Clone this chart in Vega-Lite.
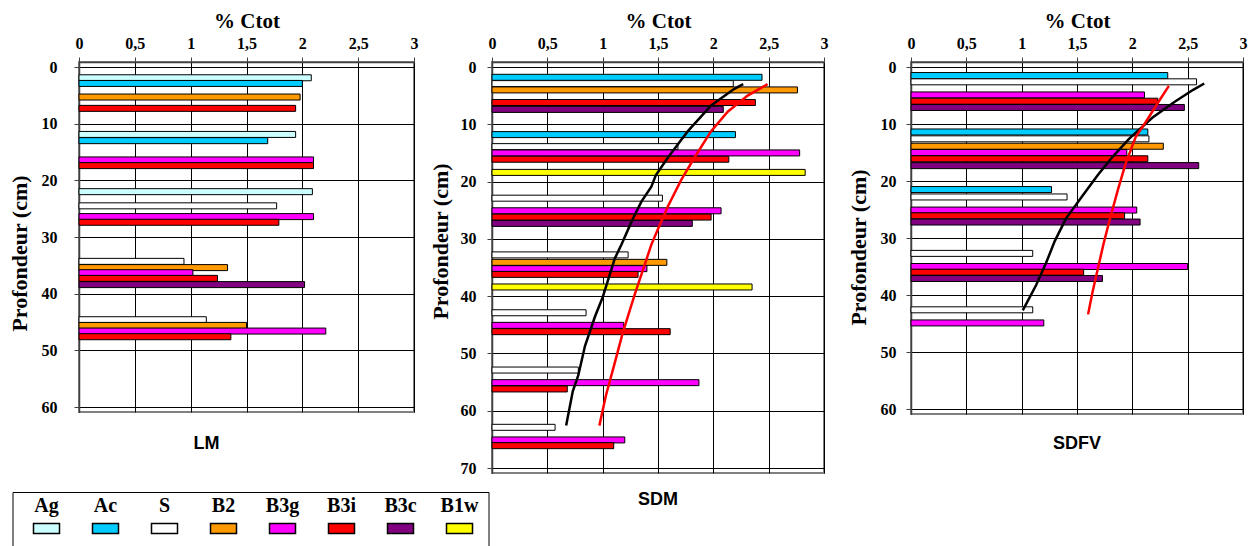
{
  "$schema": "https://vega.github.io/schema/vega-lite/v6.json",
  "background": "white",
  "padding": {"left": 7, "top": 9, "right": 5, "bottom": 0},
  "datasets": {
    "bars": [
      {"profil": "LM", "horizon": "Ag", "prof": 1.9, "ctot": 2.08},
      {"profil": "LM", "horizon": "Ac", "prof": 2.9, "ctot": 2.0},
      {"profil": "LM", "horizon": "B2", "prof": 5.3, "ctot": 1.98},
      {"profil": "LM", "horizon": "B3i", "prof": 7.3, "ctot": 1.94},
      {"profil": "LM", "horizon": "Ag", "prof": 11.9, "ctot": 1.94},
      {"profil": "LM", "horizon": "Ac", "prof": 13.0, "ctot": 1.69},
      {"profil": "LM", "horizon": "B3g", "prof": 16.4, "ctot": 2.1},
      {"profil": "LM", "horizon": "B3i", "prof": 17.4, "ctot": 2.1},
      {"profil": "LM", "horizon": "Ag", "prof": 22.0, "ctot": 2.09},
      {"profil": "LM", "horizon": "S", "prof": 24.5, "ctot": 1.77},
      {"profil": "LM", "horizon": "B3g", "prof": 26.4, "ctot": 2.1},
      {"profil": "LM", "horizon": "B3i", "prof": 27.4, "ctot": 1.79},
      {"profil": "LM", "horizon": "S", "prof": 34.3, "ctot": 0.94},
      {"profil": "LM", "horizon": "B2", "prof": 35.4, "ctot": 1.33},
      {"profil": "LM", "horizon": "B3g", "prof": 36.3, "ctot": 1.02},
      {"profil": "LM", "horizon": "B3i", "prof": 37.3, "ctot": 1.24},
      {"profil": "LM", "horizon": "B3c", "prof": 38.4, "ctot": 2.02},
      {"profil": "LM", "horizon": "S", "prof": 44.6, "ctot": 1.14},
      {"profil": "LM", "horizon": "B2", "prof": 45.6, "ctot": 1.5},
      {"profil": "LM", "horizon": "B3g", "prof": 46.6, "ctot": 2.21},
      {"profil": "LM", "horizon": "B3i", "prof": 47.6, "ctot": 1.36},

      {"profil": "SDM", "horizon": "Ac", "prof": 1.8, "ctot": 2.44},
      {"profil": "SDM", "horizon": "S", "prof": 2.9, "ctot": 2.18},
      {"profil": "SDM", "horizon": "B2", "prof": 4.0, "ctot": 2.76},
      {"profil": "SDM", "horizon": "B3i", "prof": 6.2, "ctot": 2.38},
      {"profil": "SDM", "horizon": "B3c", "prof": 7.4, "ctot": 2.09},
      {"profil": "SDM", "horizon": "Ac", "prof": 11.8, "ctot": 2.2},
      {"profil": "SDM", "horizon": "S", "prof": 13.9, "ctot": 1.68},
      {"profil": "SDM", "horizon": "B3g", "prof": 15.0, "ctot": 2.78},
      {"profil": "SDM", "horizon": "B3i", "prof": 16.1, "ctot": 2.14},
      {"profil": "SDM", "horizon": "B1w", "prof": 18.4, "ctot": 2.83},
      {"profil": "SDM", "horizon": "S", "prof": 22.9, "ctot": 1.54},
      {"profil": "SDM", "horizon": "B3g", "prof": 25.1, "ctot": 2.07},
      {"profil": "SDM", "horizon": "B3i", "prof": 26.2, "ctot": 1.98},
      {"profil": "SDM", "horizon": "B3c", "prof": 27.3, "ctot": 1.81},
      {"profil": "SDM", "horizon": "S", "prof": 32.8, "ctot": 1.23},
      {"profil": "SDM", "horizon": "B2", "prof": 34.1, "ctot": 1.58},
      {"profil": "SDM", "horizon": "B3g", "prof": 35.2, "ctot": 1.4},
      {"profil": "SDM", "horizon": "B3i", "prof": 36.2, "ctot": 1.32},
      {"profil": "SDM", "horizon": "B1w", "prof": 38.4, "ctot": 2.35},
      {"profil": "SDM", "horizon": "S", "prof": 42.9, "ctot": 0.85},
      {"profil": "SDM", "horizon": "B3g", "prof": 45.1, "ctot": 1.19},
      {"profil": "SDM", "horizon": "B3i", "prof": 46.2, "ctot": 1.61},
      {"profil": "SDM", "horizon": "S", "prof": 52.9, "ctot": 0.78},
      {"profil": "SDM", "horizon": "B3g", "prof": 55.1, "ctot": 1.87},
      {"profil": "SDM", "horizon": "B3i", "prof": 56.2, "ctot": 0.68},
      {"profil": "SDM", "horizon": "S", "prof": 62.9, "ctot": 0.57},
      {"profil": "SDM", "horizon": "B3g", "prof": 65.1, "ctot": 1.2},
      {"profil": "SDM", "horizon": "B3i", "prof": 66.1, "ctot": 1.1},

      {"profil": "SDFV", "horizon": "Ac", "prof": 1.5, "ctot": 2.32},
      {"profil": "SDFV", "horizon": "S", "prof": 2.6, "ctot": 2.58},
      {"profil": "SDFV", "horizon": "B3g", "prof": 4.9, "ctot": 2.11},
      {"profil": "SDFV", "horizon": "B3i", "prof": 6.0, "ctot": 2.23},
      {"profil": "SDFV", "horizon": "B3c", "prof": 7.1, "ctot": 2.47},
      {"profil": "SDFV", "horizon": "Ac", "prof": 11.4, "ctot": 2.14},
      {"profil": "SDFV", "horizon": "S", "prof": 12.6, "ctot": 2.15},
      {"profil": "SDFV", "horizon": "B2", "prof": 13.9, "ctot": 2.28},
      {"profil": "SDFV", "horizon": "B3g", "prof": 15.0, "ctot": 1.95},
      {"profil": "SDFV", "horizon": "B3i", "prof": 16.1, "ctot": 2.14},
      {"profil": "SDFV", "horizon": "B3c", "prof": 17.3, "ctot": 2.6},
      {"profil": "SDFV", "horizon": "Ac", "prof": 21.5, "ctot": 1.27},
      {"profil": "SDFV", "horizon": "S", "prof": 22.8, "ctot": 1.41},
      {"profil": "SDFV", "horizon": "B3g", "prof": 25.1, "ctot": 2.04},
      {"profil": "SDFV", "horizon": "B3i", "prof": 26.1, "ctot": 1.93},
      {"profil": "SDFV", "horizon": "B3c", "prof": 27.2, "ctot": 2.07},
      {"profil": "SDFV", "horizon": "S", "prof": 32.7, "ctot": 1.1},
      {"profil": "SDFV", "horizon": "B3g", "prof": 35.0, "ctot": 2.5},
      {"profil": "SDFV", "horizon": "B3i", "prof": 36.0, "ctot": 1.56},
      {"profil": "SDFV", "horizon": "B3c", "prof": 37.1, "ctot": 1.73},
      {"profil": "SDFV", "horizon": "S", "prof": 42.6, "ctot": 1.1},
      {"profil": "SDFV", "horizon": "B3g", "prof": 44.9, "ctot": 1.2}
    ],
    "curves": [
      {"profil": "SDM", "serie": "noir", "prof": 3.0, "ctot": 2.27},
      {"profil": "SDM", "serie": "noir", "prof": 3.8, "ctot": 2.19},
      {"profil": "SDM", "serie": "noir", "prof": 6.7, "ctot": 1.98},
      {"profil": "SDM", "serie": "noir", "prof": 11.2, "ctot": 1.77},
      {"profil": "SDM", "serie": "noir", "prof": 13.5, "ctot": 1.68},
      {"profil": "SDM", "serie": "noir", "prof": 15.8, "ctot": 1.59},
      {"profil": "SDM", "serie": "noir", "prof": 18.9, "ctot": 1.48},
      {"profil": "SDM", "serie": "noir", "prof": 20.9, "ctot": 1.44},
      {"profil": "SDM", "serie": "noir", "prof": 23.5, "ctot": 1.35},
      {"profil": "SDM", "serie": "noir", "prof": 26.6, "ctot": 1.27},
      {"profil": "SDM", "serie": "noir", "prof": 31.0, "ctot": 1.17},
      {"profil": "SDM", "serie": "noir", "prof": 33.4, "ctot": 1.11},
      {"profil": "SDM", "serie": "noir", "prof": 40.2, "ctot": 1.0},
      {"profil": "SDM", "serie": "noir", "prof": 43.6, "ctot": 0.93},
      {"profil": "SDM", "serie": "noir", "prof": 48.7, "ctot": 0.84},
      {"profil": "SDM", "serie": "noir", "prof": 53.8, "ctot": 0.78},
      {"profil": "SDM", "serie": "noir", "prof": 56.6, "ctot": 0.73},
      {"profil": "SDM", "serie": "noir", "prof": 62.6, "ctot": 0.67},
      {"profil": "SDM", "serie": "rouge", "prof": 3.0, "ctot": 2.49},
      {"profil": "SDM", "serie": "rouge", "prof": 5.0, "ctot": 2.31},
      {"profil": "SDM", "serie": "rouge", "prof": 7.8, "ctot": 2.13},
      {"profil": "SDM", "serie": "rouge", "prof": 11.2, "ctot": 1.98},
      {"profil": "SDM", "serie": "rouge", "prof": 15.8, "ctot": 1.83},
      {"profil": "SDM", "serie": "rouge", "prof": 19.7, "ctot": 1.71},
      {"profil": "SDM", "serie": "rouge", "prof": 24.3, "ctot": 1.59},
      {"profil": "SDM", "serie": "rouge", "prof": 28.3, "ctot": 1.5},
      {"profil": "SDM", "serie": "rouge", "prof": 31.0, "ctot": 1.44},
      {"profil": "SDM", "serie": "rouge", "prof": 34.5, "ctot": 1.38},
      {"profil": "SDM", "serie": "rouge", "prof": 39.7, "ctot": 1.29},
      {"profil": "SDM", "serie": "rouge", "prof": 46.5, "ctot": 1.18},
      {"profil": "SDM", "serie": "rouge", "prof": 51.6, "ctot": 1.11},
      {"profil": "SDM", "serie": "rouge", "prof": 57.3, "ctot": 1.03},
      {"profil": "SDM", "serie": "rouge", "prof": 62.6, "ctot": 0.97},
      {"profil": "SDFV", "serie": "noir", "prof": 2.9, "ctot": 2.65},
      {"profil": "SDFV", "serie": "noir", "prof": 4.0, "ctot": 2.55},
      {"profil": "SDFV", "serie": "noir", "prof": 6.0, "ctot": 2.39},
      {"profil": "SDFV", "serie": "noir", "prof": 8.9, "ctot": 2.18},
      {"profil": "SDFV", "serie": "noir", "prof": 12.6, "ctot": 1.97},
      {"profil": "SDFV", "serie": "noir", "prof": 15.8, "ctot": 1.82},
      {"profil": "SDFV", "serie": "noir", "prof": 18.9, "ctot": 1.69},
      {"profil": "SDFV", "serie": "noir", "prof": 22.6, "ctot": 1.55},
      {"profil": "SDFV", "serie": "noir", "prof": 26.6, "ctot": 1.4},
      {"profil": "SDFV", "serie": "noir", "prof": 30.5, "ctot": 1.3},
      {"profil": "SDFV", "serie": "noir", "prof": 34.4, "ctot": 1.22},
      {"profil": "SDFV", "serie": "noir", "prof": 38.3, "ctot": 1.13},
      {"profil": "SDFV", "serie": "noir", "prof": 42.7, "ctot": 1.01},
      {"profil": "SDFV", "serie": "rouge", "prof": 3.3, "ctot": 2.33},
      {"profil": "SDFV", "serie": "rouge", "prof": 6.0, "ctot": 2.24},
      {"profil": "SDFV", "serie": "rouge", "prof": 9.7, "ctot": 2.12},
      {"profil": "SDFV", "serie": "rouge", "prof": 12.3, "ctot": 2.03},
      {"profil": "SDFV", "serie": "rouge", "prof": 16.9, "ctot": 1.94},
      {"profil": "SDFV", "serie": "rouge", "prof": 21.5, "ctot": 1.87},
      {"profil": "SDFV", "serie": "rouge", "prof": 27.2, "ctot": 1.79},
      {"profil": "SDFV", "serie": "rouge", "prof": 31.0, "ctot": 1.74},
      {"profil": "SDFV", "serie": "rouge", "prof": 34.4, "ctot": 1.7},
      {"profil": "SDFV", "serie": "rouge", "prof": 39.5, "ctot": 1.64},
      {"profil": "SDFV", "serie": "rouge", "prof": 43.4, "ctot": 1.6}
    ]
  },
  "spacing": 17,
  "hconcat": [
    {
      "spacing": 9,
      "hconcat": [
        {
          "width": 335,
          "height": 350,
          "title": {"text": "LM", "orient": "bottom", "dx": -40, "offset": 20},
          "data": {"name": "bars"},
          "transform": [{"filter": "datum.profil === 'LM'"}],
          "mark": {"type": "bar", "orient": "horizontal", "size": 6, "stroke": "black", "strokeWidth": 1},
          "encoding": {
            "x": {"field": "ctot", "type": "quantitative", "scale": {"domain": [0, 3], "nice": false},
                  "axis": {"orient": "top", "values": [0, 0.5, 1, 1.5, 2, 2.5, 3], "title": "% Ctot", "labelExpr": "replace(format(datum.value, '~g'), '.', ',')"}},
            "y": {"field": "prof", "type": "quantitative", "scale": {"domain": [0, 60], "reverse": true, "nice": false, "zero": false},
                  "axis": {"values": [0, 10, 20, 30, 40, 50, 60], "title": "Profondeur (cm)", "labelPadding": 17, "titlePadding": 10, "titleY": 191}},
            "color": {"field": "horizon", "type": "nominal",
                      "scale": {"domain": ["Ag", "Ac", "S", "B2", "B3g", "B3i", "B3c", "B1w"],
                                "range": ["#CCFFFF", "#00CCFF", "#FFFFFF", "#FF9900", "#FF00FF", "#FF0000", "#800080", "#FFFF00"]},
                      "legend": {"title": " "}}
          }
        },
        {
          "width": 332,
          "height": 411,
          "title": {"text": "SDM", "orient": "bottom", "offset": 15},
          "encoding": {
            "x": {"field": "ctot", "type": "quantitative", "scale": {"domain": [0, 3], "nice": false},
                  "axis": {"orient": "top", "values": [0, 0.5, 1, 1.5, 2, 2.5, 3], "title": "% Ctot", "labelExpr": "replace(format(datum.value, '~g'), '.', ',')"}},
            "y": {"field": "prof", "type": "quantitative", "scale": {"domain": [0, 70], "reverse": true, "nice": false, "zero": false},
                  "axis": {"values": [0, 10, 20, 30, 40, 50, 60, 70], "title": "Profondeur (cm)", "labelPadding": 11, "titlePadding": 8, "titleY": 179}}
          },
          "layer": [
            {
              "data": {"name": "bars"},
              "transform": [{"filter": "datum.profil === 'SDM'"}],
              "mark": {"type": "bar", "orient": "horizontal", "size": 6, "stroke": "black", "strokeWidth": 1},
              "encoding": {
                "color": {"field": "horizon", "type": "nominal",
                          "scale": {"domain": ["Ag", "Ac", "S", "B2", "B3g", "B3i", "B3c", "B1w"],
                                    "range": ["#CCFFFF", "#00CCFF", "#FFFFFF", "#FF9900", "#FF00FF", "#FF0000", "#800080", "#FFFF00"]},
                          "legend": {"title": " "}}
              }
            },
            {
              "data": {"name": "curves"},
              "transform": [{"filter": "datum.profil === 'SDM' && datum.serie === 'noir'"}],
              "mark": {"type": "line", "color": "black", "strokeWidth": 2.5},
              "encoding": {"order": {"field": "prof", "type": "quantitative"}}
            },
            {
              "data": {"name": "curves"},
              "transform": [{"filter": "datum.profil === 'SDM' && datum.serie === 'rouge'"}],
              "mark": {"type": "line", "color": "#FF0000", "strokeWidth": 2.5},
              "encoding": {"order": {"field": "prof", "type": "quantitative"}}
            }
          ]
        }
      ]
    },
    {
      "width": 332,
      "height": 352,
      "title": {"text": "SDFV", "orient": "bottom", "offset": 18},
      "encoding": {
        "x": {"field": "ctot", "type": "quantitative", "scale": {"domain": [0, 3], "nice": false},
              "axis": {"orient": "top", "values": [0, 0.5, 1, 1.5, 2, 2.5, 3], "title": "% Ctot", "labelExpr": "replace(format(datum.value, '~g'), '.', ',')"}},
        "y": {"field": "prof", "type": "quantitative", "scale": {"domain": [0, 60], "reverse": true, "nice": false, "zero": false},
              "axis": {"values": [0, 10, 20, 30, 40, 50, 60], "title": "Profondeur (cm)", "labelPadding": 10, "titlePadding": 10, "titleY": 185}}
      },
      "layer": [
        {
          "data": {"name": "bars"},
          "transform": [{"filter": "datum.profil === 'SDFV'"}],
          "mark": {"type": "bar", "orient": "horizontal", "size": 6, "stroke": "black", "strokeWidth": 1},
          "encoding": {
            "color": {"field": "horizon", "type": "nominal",
                      "scale": {"domain": ["Ag", "Ac", "S", "B2", "B3g", "B3i", "B3c", "B1w"],
                                "range": ["#CCFFFF", "#00CCFF", "#FFFFFF", "#FF9900", "#FF00FF", "#FF0000", "#800080", "#FFFF00"]},
                      "legend": {"title": " "}}
          }
        },
        {
          "data": {"name": "curves"},
          "transform": [{"filter": "datum.profil === 'SDFV' && datum.serie === 'noir'"}],
          "mark": {"type": "line", "color": "black", "strokeWidth": 2.5},
          "encoding": {"order": {"field": "prof", "type": "quantitative"}}
        },
        {
          "data": {"name": "curves"},
          "transform": [{"filter": "datum.profil === 'SDFV' && datum.serie === 'rouge'"}],
          "mark": {"type": "line", "color": "#FF0000", "strokeWidth": 2.5},
          "encoding": {"order": {"field": "prof", "type": "quantitative"}}
        }
      ]
    }
  ],
  "config": {
    "font": "Liberation Serif",
    "view": {"stroke": "#808080", "strokeWidth": 2},
    "axis": {
      "grid": true, "gridColor": "#000000", "gridOpacity": 1, "gridWidth": 1,
      "domainColor": "#404040", "domainWidth": 1.5,
      "tickColor": "#404040", "tickSize": 5, "tickWidth": 1,
      "labelFont": "Liberation Serif", "labelFontSize": 16, "labelFontWeight": "bold", "labelColor": "#000000",
      "titleFont": "Liberation Serif", "titleFontWeight": "bold", "titleColor": "#000000",
      "labelFlush": false, "labelOverlap": false
    },
    "axisX": {"labelPadding": 6, "titleFontSize": 21, "titlePadding": 4, "labelFont": "Liberation Serif", "titleFont": "Liberation Serif"},
    "axisY": {"titleFontSize": 22, "labelFont": "Liberation Serif", "titleFont": "Liberation Serif"},
    "title": {"font": "Liberation Sans", "fontSize": 18, "fontWeight": "bold", "color": "#000000"},
    "legend": {
      "orient": "none",
      "legendX": -66.5,
      "legendY": 430,
      "direction": "horizontal",
      "columns": 8,
      "titleOrient": "left",
      "titleFontSize": 20,
      "titlePadding": 10,
      "symbolType": "M-1,0.538H1V1.308H-1Z",
      "symbolSize": 676,
      "symbolStrokeColor": "black",
      "symbolStrokeWidth": 1.5,
      "symbolOpacity": 1,
      "labelFont": "Liberation Serif",
      "labelFontSize": 20,
      "labelFontWeight": "bold",
      "labelColor": "#000000",
      "labelAlign": "center",
      "labelOffset": -14,
      "labelBaseline": "bottom",
      "columnPadding": 21,
      "gridAlign": "all",
      "strokeColor": "black",
      "strokeWidth": 1,
      "padding": 10
    }
  }
}
